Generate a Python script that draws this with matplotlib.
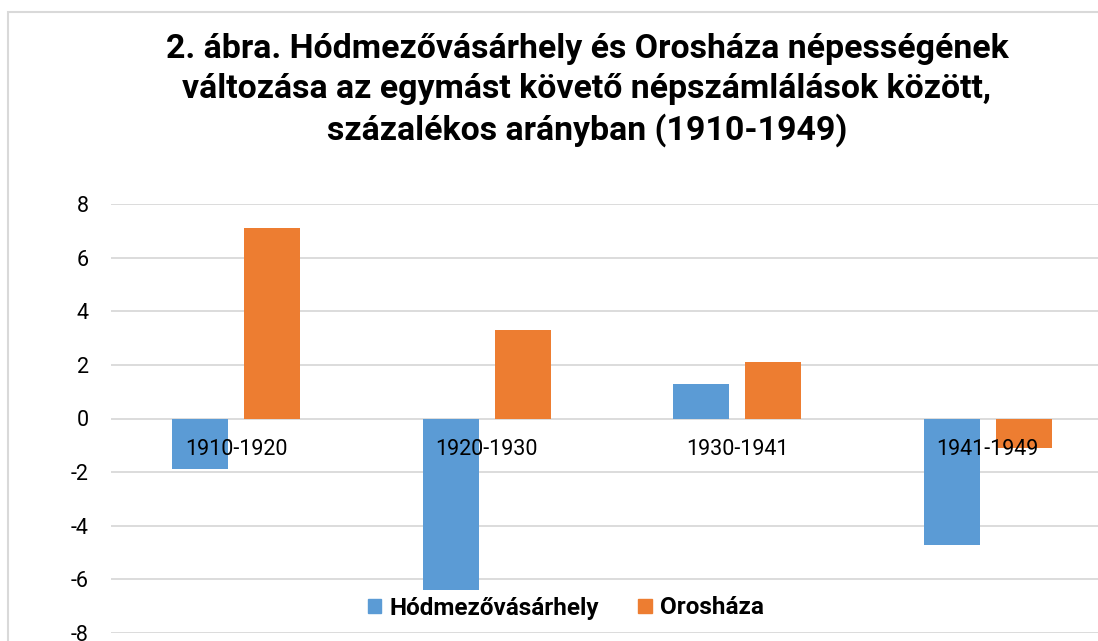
import matplotlib
matplotlib.use("Agg")
import matplotlib.pyplot as plt
from matplotlib.patches import Rectangle, Patch
import numpy as np

categories = ["1910-1920", "1920-1930", "1930-1941", "1941-1949"]
hodmezovasarhely = [-1.9, -6.4, 1.3, -4.7]
oroshaza = [7.1, 3.3, 2.1, -1.1]
series_names = ["Hódmezővásárhely", "Orosháza"]
yticks = [-8, -6, -4, -2, 0, 2, 4, 6, 8]
title = ("2. ábra. Hódmezővásárhely és Orosháza népességének\n"
         "változása az egymást követő népszámlálások között,\n"
         "százalékos arányban (1910-1949)")

plt.rcParams["font.family"] = ["Roboto", "DejaVu Sans"]

BLUE = "#5B9BD5"
ORANGE = "#ED7D31"
GRID = "#D9D9D9"

W, H = 1098, 641
fig = plt.figure(figsize=(W / 100, H / 100), dpi=100)

# axes: left 111px, right 1113px (cropped), top 204px, bottom 633px
ax = fig.add_axes([111 / W, 1 - 633 / H, 1002 / W, (633 - 204) / H])
ax.set_xlim(-0.5, 3.5)
ax.set_ylim(-8, 8)

x = np.arange(len(categories))
bw = 0.2236
off = 0.1437
ax.bar(x - off, hodmezovasarhely, bw, color=BLUE, zorder=2, label=series_names[0])
ax.bar(x + off, oroshaza, bw, color=ORANGE, zorder=2, label=series_names[1])

ax.set_yticks(yticks)
ax.set_yticklabels([str(v) for v in yticks])
ax.yaxis.grid(True, color=GRID, lw=1.3, zorder=0)
ax.set_axisbelow(True)
ax.set_xticks([])
for s in ax.spines.values():
    s.set_visible(False)
lab_size = 15.5
ax.tick_params(axis="y", length=0, pad=16, labelsize=lab_size, labelcolor="#000000")

for i, c in enumerate(categories):
    ax.annotate(c, (i, 0), xytext=(0, -22), textcoords="offset points",
                ha="center", va="center", fontsize=lab_size, zorder=5)

fig.text(587 / W, 1 - 90 / H, title, ha="center", va="center",
         fontsize=24.4, fontweight="bold", linespacing=1.3)

handles = [Patch(color=BLUE), Patch(color=ORANGE)]
fig.legend(handles, series_names, loc="center", bbox_to_anchor=(566 / W, 1 - 608 / H),
           ncol=2, frameon=False, prop={"weight": "bold", "size": 17.5},
           handlelength=0.55, handleheight=0.55, handletextpad=0.35, columnspacing=1.6)

# chart border (cropped)
fig.patches.append(Rectangle((8 / W, -0.1), 1.2, 1.1 - 12 / H,
                             transform=fig.transFigure, fill=False,
                             edgecolor=GRID, lw=1.5))

fig.savefig("out.png", dpi=100, facecolor="white")
